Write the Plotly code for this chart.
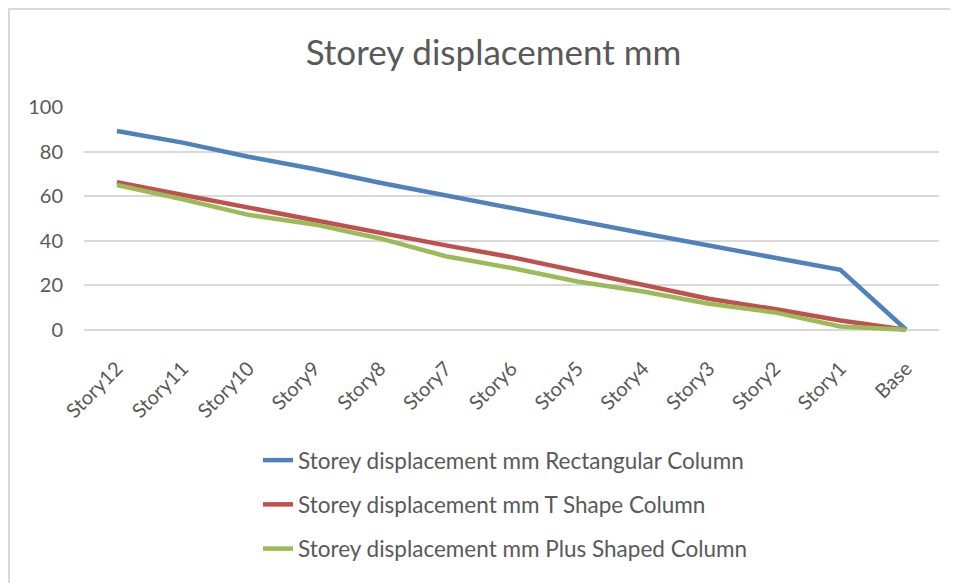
import plotly.graph_objects as go

categories = ["Story12", "Story11", "Story10", "Story9", "Story8", "Story7",
              "Story6", "Story5", "Story4", "Story3", "Story2", "Story1", "Base"]
rectangular = [89.2, 84.0, 77.7, 72.2, 66.0, 60.5, 54.6, 49.0, 43.3, 37.8, 32.3, 26.9, 0]
t_shape = [66.2, 60.5, 55.0, 49.3, 43.5, 37.9, 32.6, 26.2, 20.2, 13.9, 9.3, 4.2, 0]
plus_shape = [65.0, 58.6, 51.6, 47.3, 41.0, 33.0, 27.7, 21.7, 17.2, 11.7, 7.8, 1.5, 0]

series_names = ["Storey displacement mm Rectangular Column",
                "Storey displacement mm T Shape Column",
                "Storey displacement mm Plus Shaped Column"]
colors = ["#4f81bd", "#c0504d", "#9bbb59"]

# figure drawn inside the page body (8px default margin)
W, H = 950, 575
L, R, T, B = 76, 19, 99, 251
pw, ph = W - L - R, H - T - B

fig = go.Figure()
for i, (name, vals) in enumerate(zip(series_names, [rectangular, t_shape, plus_shape])):
    fig.add_trace(go.Scatter(x=categories, y=vals, mode="lines", name=name,
                             legendgroup=str(i),
                             line=dict(color=colors[i], width=4.5)))

fig.update_layout(
    width=W, height=H,
    margin=dict(l=L, r=R, t=T, b=B),
    paper_bgcolor="white", plot_bgcolor="white",
    font=dict(family="Lato", color="#595959"),
    title=dict(text="Storey displacement mm", x=(493.5 - 8) / W, xanchor="center",
               y=1 - 45 / H, yanchor="middle",
               font=dict(size=35, color="#595959", family="Lato")),
    xaxis=dict(type="category", showgrid=False, showline=False, zeroline=False,
               tickangle=-45, tickfont=dict(size=20, color="#595959"),
               ticks="", ticklabelstandoff=20,
               range=[-0.5, len(categories) - 0.5]),
    yaxis=dict(range=[-1, 100], tick0=0, dtick=20, showgrid=True,
               gridcolor="#d9d9d9", gridwidth=1.5, zeroline=False, showline=False,
               tickfont=dict(size=20, color="#595959"), ticks="",
               ticklabelstandoff=20),
    legend=dict(x=(250 - L) / pw, xanchor="left", y=(H - B - 431) / ph, yanchor="top",
                font=dict(size=22.5, color="#595959"), traceorder="grouped",
                tracegroupgap=12, bgcolor="rgba(0,0,0,0)"),
    showlegend=True,
    shapes=[
        dict(type="line", xref="paper", yref="paper",
             x0=(0 - L) / pw, x1=(W - L) / pw, y0=(H - B - 1) / ph, y1=(H - B - 1) / ph,
             line=dict(color="#d9d9d9", width=2)),
        dict(type="line", xref="paper", yref="paper",
             x0=(1 - L) / pw, x1=(1 - L) / pw, y0=(H - B) / ph, y1=(H - B - H) / ph,
             line=dict(color="#d9d9d9", width=2)),
    ],
)

fig.write_html("out.html")
